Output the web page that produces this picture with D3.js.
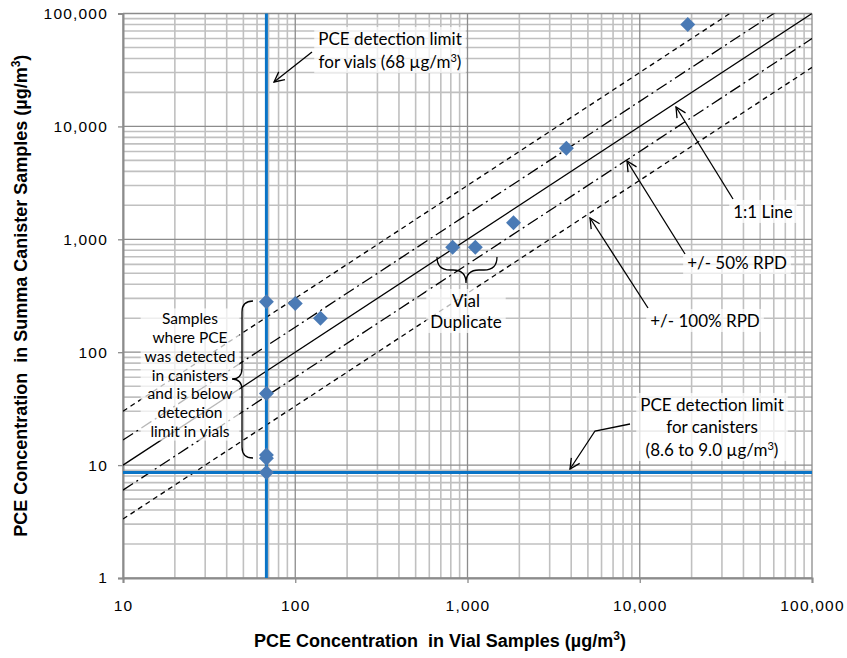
<!DOCTYPE html>
<html>
<head>
<meta charset="utf-8">
<script src="https://cdn.jsdelivr.net/npm/d3@7"></script>
<style>
  body { margin: 0; background: #fff; }
  svg text { fill: #000; }
</style>
</head>
<body>
<div id="chart"></div>
<script>
// values
var vialConc     = [68, 68, 68, 68, 68, 100, 140, 820, 1110, 1850, 3750, 19000];
var canisterConc = [8.6, 11.5, 12.3, 43, 280, 270, 200, 850, 850, 1400, 6400, 80000];
var vialLimit = 68;
var canisterLimit = 8.6;
// reference lines: canister/vial ratio (1:1, +/-50% RPD, +/-100% RPD)
var refRatios = [1, 1.667, 0.6, 3, 0.333];
var refStyles = ["solid", "dashdot", "dashdot", "dash", "dash"];
var xTicks = [10, 100, 1000, 10000, 100000];
var yTicks = [1, 10, 100, 1000, 10000, 100000];

var width = 847, height = 658;
var pLeft = 123, pRight = 812, pTop = 13.5, pBottom = 578;

var svg = d3.select("#chart")
    .append("svg")
    .attr("width", width)
    .attr("height", height);

var x = d3.scaleLog().domain([10, 100000]).range([pLeft, pRight]);
var y = d3.scaleLog().domain([1, 100000]).range([pBottom, pTop]);

svg.append("clipPath")
    .attr("id", "plot")
    .append("rect")
    .attr("x", pLeft).attr("y", pTop)
    .attr("width", pRight - pLeft).attr("height", pBottom - pTop);

// minor grid
var minorX = [], minorY = [];
xTicks.slice(0, -1).forEach(function(d) {
    for (var k = 2; k < 10; k++) minorX.push(d * k);
});
yTicks.slice(0, -1).forEach(function(d) {
    for (var k = 2; k < 10; k++) minorY.push(d * k);
});

var grid = svg.append("g");
grid.selectAll(".mx").data(minorX).enter().append("line")
    .attr("x1", function(d) { return x(d); })
    .attr("x2", function(d) { return x(d); })
    .attr("y1", pTop).attr("y2", pBottom)
    .attr("stroke", "#c0c0c0").attr("stroke-width", 1.6);
grid.selectAll(".my").data(minorY).enter().append("line")
    .attr("y1", function(d) { return y(d); })
    .attr("y2", function(d) { return y(d); })
    .attr("x1", pLeft).attr("x2", pRight)
    .attr("stroke", "#c0c0c0").attr("stroke-width", 1.6);
grid.selectAll(".Mx").data(xTicks).enter().append("line")
    .attr("x1", function(d) { return x(d); })
    .attr("x2", function(d) { return x(d); })
    .attr("y1", pTop).attr("y2", pBottom)
    .attr("stroke", "#8c8c8c").attr("stroke-width", 1.3);
grid.selectAll(".My").data(yTicks).enter().append("line")
    .attr("y1", function(d) { return y(d); })
    .attr("y2", function(d) { return y(d); })
    .attr("x1", pLeft).attr("x2", pRight)
    .attr("stroke", "#8c8c8c").attr("stroke-width", 1.3);

// axes
var xAxis = svg.append("g")
    .attr("transform", "translate(0," + pBottom + ")")
    .call(d3.axisBottom(x).tickValues(xTicks).tickFormat(d3.format(",")).tickSize(5).tickPadding(17));
var yAxis = svg.append("g")
    .attr("transform", "translate(" + pLeft + ",0)")
    .call(d3.axisLeft(y).tickValues(yTicks).tickFormat(d3.format(",")).tickSize(5).tickPadding(10));
[xAxis, yAxis].forEach(function(a) {
    a.select(".domain").attr("stroke", "#8c8c8c").attr("stroke-width", 2);
    a.selectAll(".tick line").attr("stroke", "#8c8c8c").attr("stroke-width", 1.3);
    a.selectAll(".tick text")
        .attr("font-family", "Liberation Sans, Arial, sans-serif")
        .attr("font-size", 15.5)
        .attr("letter-spacing", 1.2)
        .attr("fill", "#000");
});

// reference lines
var dash = { solid: null, dashdot: "12,4,2,4", dash: "5,4" };
svg.append("g").attr("clip-path", "url(#plot)")
    .selectAll("line").data(refRatios).enter().append("line")
    .attr("x1", x(10)).attr("y1", function(d) { return y(10 * d); })
    .attr("x2", x(100000)).attr("y2", function(d) { return y(100000 * d); })
    .attr("stroke", "#000").attr("stroke-width", 1.3)
    .attr("stroke-dasharray", function(d, i) { return dash[refStyles[i]]; });

// detection limits
svg.append("line")
    .attr("x1", x(vialLimit)).attr("x2", x(vialLimit))
    .attr("y1", pTop).attr("y2", pBottom)
    .attr("stroke", "#0a74c6").attr("stroke-width", 3);
svg.append("line")
    .attr("x1", pLeft).attr("x2", pRight)
    .attr("y1", y(canisterLimit)).attr("y2", y(canisterLimit))
    .attr("stroke", "#0a74c6").attr("stroke-width", 3);

// samples
svg.append("g").selectAll("path")
    .data(vialConc).enter().append("path")
    .attr("d", d3.symbol().type(d3.symbolSquare).size(112))
    .attr("transform", function(d, i) {
        return "translate(" + x(d) + "," + y(canisterConc[i]) + ") rotate(45)";
    })
    .attr("fill", "#4a7ab5");

// annotations
var notes = [
    { lines: ["PCE detection limit", "for vials (68 \u00b5g/m\u00b3)"], cx: 390, cy: 39, lh: 23, fs: 17 },
    { lines: ["Vial", "Duplicate"], cx: 466, cy: 301, lh: 21, fs: 17 },
    { lines: ["1:1 Line"], cx: 763, cy: 212, lh: 20, fs: 17 },
    { lines: ["+/- 50% RPD"], cx: 737, cy: 263, lh: 20, fs: 17 },
    { lines: ["+/- 100% RPD"], cx: 705, cy: 321, lh: 20, fs: 17 },
    { lines: ["PCE detection limit", "for canisters", "(8.6 to 9.0 \u00b5g/m\u00b3)"], cx: 712, cy: 405, lh: 22.5, fs: 17 },
    { lines: ["Samples", "where PCE", "was detected", "in canisters", "and is below", "detection", "limit in vials"], cx: 190, cy: 319, lh: 18.7, fs: 15.5 }
];

var noteG = svg.append("g");
notes.forEach(function(n) {
    var g = noteG.append("g");
    var bg = g.append("rect").attr("fill", "#fff").attr("opacity", 0.72);
    var t = g.append("text")
        .attr("font-family", "Lato, 'Open Sans', sans-serif")
        .attr("font-size", n.fs)
        .attr("text-anchor", "middle");
    n.lines.forEach(function(s, i) {
        var ts = t.append("tspan")
            .attr("x", n.cx)
            .attr("y", n.cy + i * n.lh)
            .attr("dy", "0.35em");
        var m = s.match(/^(.*)\u00b3(.*)$/);
        if (m) {
            ts.append("tspan").text(m[1]);
            ts.append("tspan").attr("font-size", n.fs * 0.65).attr("dy", "-0.55em").text("3");
            ts.append("tspan").attr("dy", "0.35em").text(m[2]);
        } else {
            ts.text(s);
        }
    });
    var b = t.node().getBBox();
    bg.attr("x", b.x - 4).attr("y", b.y - 1).attr("width", b.width + 8).attr("height", b.height + 2);
});

// arrows
svg.append("defs").append("marker")
    .attr("id", "head")
    .attr("viewBox", "0 0 12 12")
    .attr("refX", 11).attr("refY", 6)
    .attr("markerWidth", 12).attr("markerHeight", 12)
    .attr("markerUnits", "userSpaceOnUse")
    .attr("orient", "auto")
    .append("path")
    .attr("d", "M1,1 L11,6 L1,11")
    .attr("fill", "none").attr("stroke", "#000").attr("stroke-width", 1.3);

var arrows = [
    [[312, 52], [274, 82]],
    [[733, 199], [676, 107]],
    [[685, 254], [627, 161]],
    [[648, 308], [590, 218]],
    [[630, 424], [595, 431], [570, 469]]
];
svg.append("g").selectAll("path").data(arrows).enter().append("path")
    .attr("d", function(d) { return d3.line()(d); })
    .attr("fill", "none").attr("stroke", "#000").attr("stroke-width", 1.3)
    .attr("marker-end", "url(#head)");

// braces
svg.append("path")
    .attr("d", "M253,301 Q242,301 242,312 L242,368 Q242,379 232,379 Q242,379 242,390 L242,447 Q242,458 253,458")
    .attr("fill", "none").attr("stroke", "#000").attr("stroke-width", 1.3);
svg.append("path")
    .attr("d", "M437,257 Q437,270 450,270 L453,270 Q466,270 466,283 Q466,270 479,270 L484,270 Q497,270 497,257")
    .attr("fill", "none").attr("stroke", "#000").attr("stroke-width", 1.3);

// axis titles
var xt = svg.append("text")
    .attr("x", 440).attr("y", 647)
    .attr("text-anchor", "middle")
    .attr("font-family", "Liberation Sans, Arial, sans-serif")
    .attr("font-weight", "bold").attr("font-size", 18)
    .attr("xml:space", "preserve");
xt.append("tspan").text("PCE Concentration  in Vial Samples (\u00b5g/m");
xt.append("tspan").attr("font-size", 12).attr("dy", -7).text("3");
xt.append("tspan").attr("dy", 7).text(")");

var yt = svg.append("text")
    .attr("transform", "translate(27," + (pTop + pBottom) / 2 + ") rotate(-90)")
    .attr("text-anchor", "middle")
    .attr("font-family", "Liberation Sans, Arial, sans-serif")
    .attr("font-weight", "bold").attr("font-size", 18)
    .attr("xml:space", "preserve");
yt.append("tspan").text("PCE Concentration  in Summa Canister Samples (\u00b5g/m");
yt.append("tspan").attr("font-size", 12).attr("dy", -7).text("3");
yt.append("tspan").attr("dy", 7).text(")");
</script>
</body>
</html>
